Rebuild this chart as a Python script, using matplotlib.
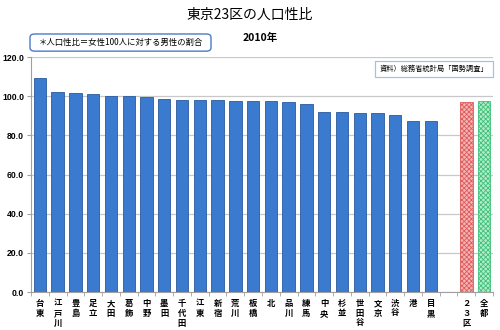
import matplotlib
matplotlib.use("Agg")
import matplotlib.pyplot as plt
from matplotlib.patches import FancyBboxPatch

plt.rcParams['font.family'] = ['Noto Sans CJK JP', 'DejaVu Sans']
plt.rcParams['hatch.linewidth'] = 0.6

wards = ["台東", "江戸川", "豊島", "足立", "大田", "葛飾", "中野", "墨田", "千代田",
         "江東", "新宿", "荒川", "板橋", "北", "品川", "練馬", "中央", "杉並",
         "世田谷", "文京", "渋谷", "港", "目黒"]
ratios = [109.4, 102.0, 101.7, 101.0, 100.3, 100.3, 99.5, 98.8, 98.3,
          98.3, 98.3, 97.8, 97.8, 97.6, 96.9, 95.8, 92.2, 91.8,
          91.3, 91.3, 90.5, 87.6, 87.4]
totals = ["２３区", "全都"]
total_ratios = [96.9, 97.6]
yticks = [0, 20, 40, 60, 80, 100, 120]

fig = plt.figure(figsize=(5, 3.3), dpi=100)
ax = fig.add_axes([0.062, 0.115, 0.924, 0.712])

n = len(wards)
x_wards = list(range(n))
x_totals = [n + 1, n + 2]

ax.bar(x_wards, ratios, width=0.7, color="#3b7bcf", edgecolor="#2a5a9c",
       linewidth=0.6, zorder=3)
ax.bar(x_totals[0], total_ratios[0], width=0.7, color="#f3b4b4", edgecolor="#e05a5a",
       hatch="xxxxxxx", linewidth=0.6, zorder=3)
ax.bar(x_totals[1], total_ratios[1], width=0.7, color="#b4ecc8", edgecolor="#3cc07a",
       hatch="xxxxxxx", linewidth=0.6, zorder=3)

ax.set_xlim(-0.5, n + 2.5)
ax.set_ylim(0, 120)
ax.set_yticks(yticks)
ax.set_yticklabels([f"{v:.1f}" for v in yticks], fontsize=6.2, fontweight="bold",
                   family=["Liberation Sans"])
ax.yaxis.grid(True, color="#c8c8c8", linewidth=0.9, zorder=0)

labels = wards + [""] + totals
ax.set_xticks(list(range(n + 3)))
ax.set_xticklabels(["\n".join(s) for s in labels], fontsize=6, fontweight="bold",
                   linespacing=1.15, va="top")
ax.tick_params(axis="x", length=0, pad=5)
ax.tick_params(axis="y", length=3, color="#a0a0a0", pad=2)
# category separator ticks
ax.set_xticks([i - 0.5 for i in range(n + 4)], minor=True)
ax.tick_params(axis="x", which="minor", length=3, color="#a0a0a0")

for side in ["top", "right"]:
    ax.spines[side].set_visible(False)
ax.spines["left"].set_color("#a0a0a0")
ax.spines["bottom"].set_color("#a0a0a0")

fig.text(0.5, 0.955, "東京23区の人口性比", ha="center", va="center", fontsize=10)
fig.text(0.52, 0.885, "2010年", ha="center", va="center", fontsize=7.5,
         fontweight="bold")

box = FancyBboxPatch((0.06, 0.845), 0.362, 0.052, boxstyle="round,pad=0,rounding_size=0.01",
                     transform=fig.transFigure, facecolor="white", edgecolor="#4a7ac8",
                     linewidth=1.0)
fig.patches.append(box)
fig.text(0.078, 0.871, "＊人口性比＝女性100人に対する男性の割合", ha="left", va="center",
         fontsize=6)

src = FancyBboxPatch((0.75, 0.768), 0.236, 0.048, boxstyle="square,pad=0",
                     transform=fig.transFigure, facecolor="white", edgecolor="#a8c0e0",
                     linewidth=0.9)
fig.patches.append(src)
fig.text(0.868, 0.792, "資料）総務省統計局「国勢調査」", ha="center", va="center",
         fontsize=5.2)

fig.savefig("out.png", dpi=100)
